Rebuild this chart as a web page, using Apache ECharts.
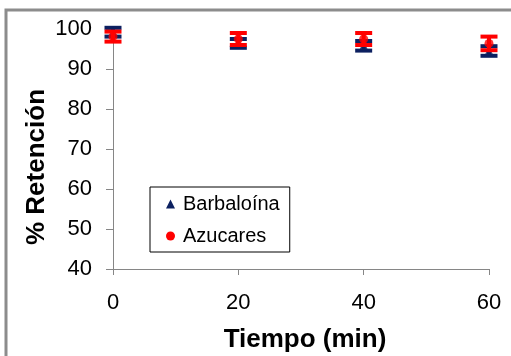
<!DOCTYPE html>
<html>
<head>
<meta charset="utf-8">
<script src="https://cdn.jsdelivr.net/npm/echarts@6/dist/echarts.min.js"></script>
<style>
  html, body { margin: 0; padding: 0; background: #fff; }
  #chart { width: 511px; height: 356px; }
</style>
</head>
<body>
<div id="chart"></div>
<script>
// Retention (%) over time for two components
const tiempo = [0, 20, 40, 60];
const barbaloina = [99.2, 96.4, 95.8, 94.5];
const barbaloinaErr = [1.1, 1.1, 1.2, 1.2];
const azucares = [98.1, 97.5, 97.5, 96.4];
const azucaresErr = [1.25, 1.5, 1.5, 1.7];

const yTicks = [40, 50, 60, 70, 80, 90, 100];
const xTicks = [0, 20, 40, 60];
const xTitle = 'Tiempo (min)';
const yTitle = '% Retención';

const NAVY = '#0c2060';
const RED = '#ff0000';
const FONT = 'Liberation Sans, Arial, sans-serif';

function pairs(xs, ys) { return xs.map((x, i) => [x, ys[i]]); }
function errRows(xs, ys, es) { return xs.map((x, i) => [x, ys[i] - es[i], ys[i] + es[i]]); }

// Error bar drawn as a vertical stem with horizontal caps
function errorBar(color) {
  return function (params, api) {
    const lo = api.coord([api.value(0), api.value(1)]);
    const hi = api.coord([api.value(0), api.value(2)]);
    const half = 8.5;
    const style = { stroke: color, lineWidth: 4 };
    return {
      type: 'group',
      children: [
        { type: 'line', shape: { x1: lo[0], y1: lo[1], x2: hi[0], y2: hi[1] }, style: style },
        { type: 'line', shape: { x1: lo[0] - half, y1: lo[1], x2: lo[0] + half, y2: lo[1] }, style: style },
        { type: 'line', shape: { x1: hi[0] - half, y1: hi[1], x2: hi[0] + half, y2: hi[1] }, style: style }
      ]
    };
  };
}

const chart = echarts.init(document.getElementById('chart'), null, { renderer: 'canvas' });

const titleStyle = { fontFamily: FONT, fontSize: 26, fontWeight: 'bold', fill: '#000' };

chart.setOption({
  animation: false,
  backgroundColor: '#fff',
  grid: { left: 113, right: 22, top: 29, bottom: 87 },
  graphic: [
    {
      type: 'rect',
      shape: { x: 6, y: 10, width: 520, height: 360 },
      style: { fill: 'none', stroke: '#8c8c8c', lineWidth: 3 },
      z: -1
    },
    {
      type: 'text',
      x: 305, y: 340,
      style: Object.assign({ text: xTitle, align: 'center', verticalAlign: 'middle' }, titleStyle)
    },
    {
      type: 'text',
      x: 37, y: 167,
      rotation: Math.PI / 2,
      style: Object.assign({ text: yTitle, align: 'center', verticalAlign: 'middle' }, titleStyle)
    }
  ],
  legend: {
    orient: 'vertical',
    left: 150,
    top: 187,
    padding: [7, 10, 6, 16],
    itemGap: 12,
    itemWidth: 9,
    itemHeight: 9,
    borderColor: '#000',
    borderWidth: 1,
    backgroundColor: '#fff',
    textStyle: { fontFamily: FONT, fontSize: 20, color: '#000', padding: [0, 0, 0, 3] },
    data: [
      { name: 'Barbaloína', icon: 'triangle', itemStyle: { color: NAVY } },
      { name: 'Azucares', icon: 'circle', itemStyle: { color: RED } }
    ]
  },
  xAxis: {
    type: 'value',
    min: 0, max: 60, interval: 20,
    axisLine: { onZero: false, lineStyle: { color: '#868686', width: 1 } },
    axisTick: { show: true, length: 6, lineStyle: { color: '#868686' } },
    axisLabel: { margin: 23, fontFamily: FONT, fontSize: 22, color: '#000',
      formatter: v => xTicks.includes(v) ? String(v) : '' },
    splitLine: { show: false }
  },
  yAxis: {
    type: 'value',
    min: 40, max: 100, interval: 10,
    axisLine: { show: true, lineStyle: { color: '#868686', width: 1 } },
    axisTick: { show: true, length: 7, lineStyle: { color: '#868686' } },
    axisLabel: { margin: 21, fontFamily: FONT, fontSize: 22, color: '#000',
      formatter: v => yTicks.includes(v) ? String(v) : '' },
    splitLine: { show: false }
  },
  series: [
    {
      name: 'Barbaloína',
      type: 'custom',
      renderItem: errorBar(NAVY),
      data: errRows(tiempo, barbaloina, barbaloinaErr),
      encode: { x: 0, y: [1, 2] },
      clip: false,
      z: 2
    },
    {
      name: 'Barbaloína',
      type: 'scatter',
      symbol: 'triangle',
      symbolSize: 9,
      itemStyle: { color: NAVY },
      data: pairs(tiempo, barbaloina),
      clip: false,
      z: 3
    },
    {
      name: 'Azucares',
      type: 'custom',
      renderItem: errorBar(RED),
      data: errRows(tiempo, azucares, azucaresErr),
      encode: { x: 0, y: [1, 2] },
      clip: false,
      z: 4
    },
    {
      name: 'Azucares',
      type: 'scatter',
      symbol: 'circle',
      symbolSize: 9,
      itemStyle: { color: RED },
      data: pairs(tiempo, azucares),
      clip: false,
      z: 5
    }
  ]
});
</script>
</body>
</html>
